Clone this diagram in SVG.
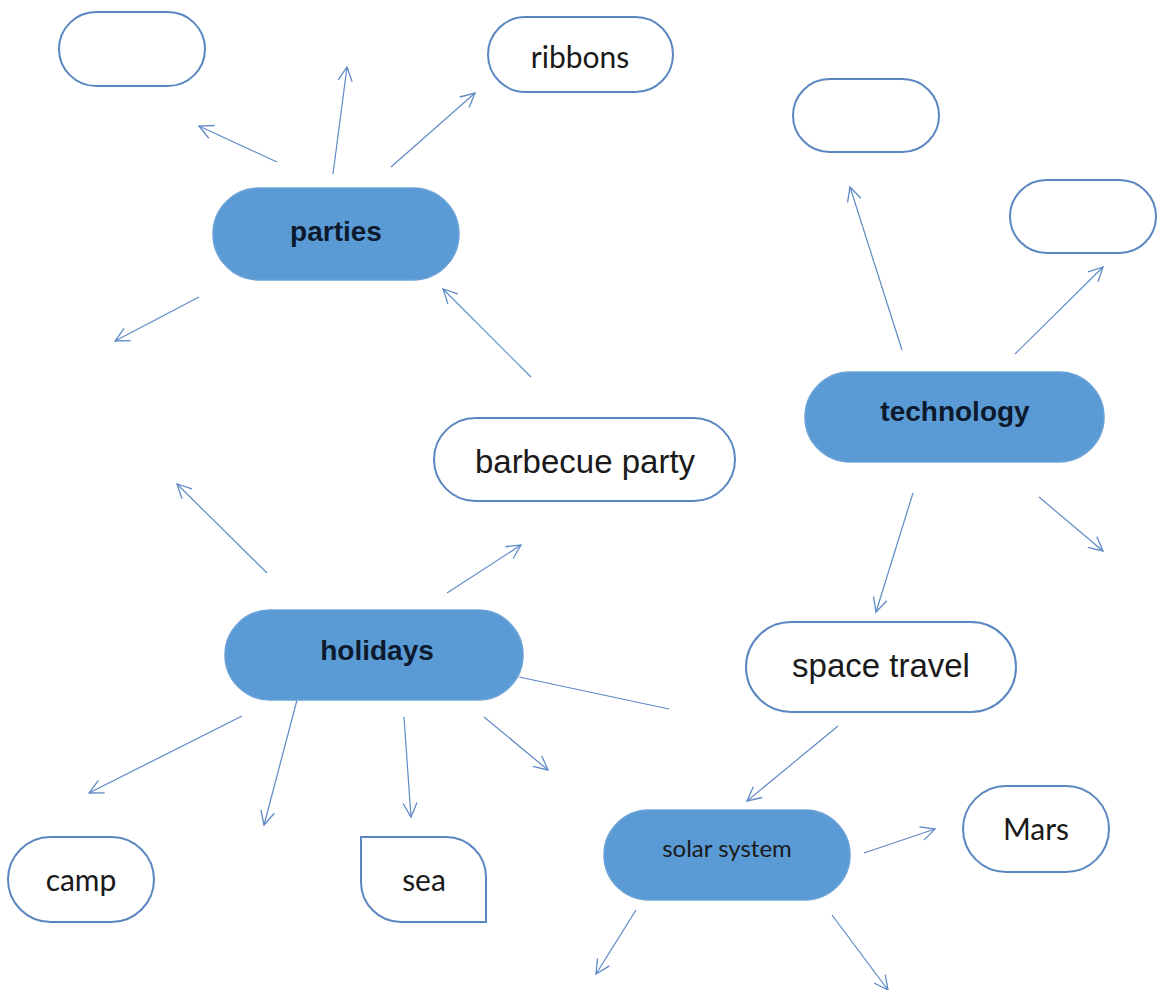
<svg xmlns="http://www.w3.org/2000/svg" width="1160" height="990" viewBox="0 0 1160 990">
<defs>
<marker id="arr" markerUnits="userSpaceOnUse" markerWidth="20" markerHeight="20" refX="15" refY="8" orient="auto">
<path d="M1,1 L15,8 L1,15" fill="none" stroke="#5F8AC6" stroke-width="1.3"/>
</marker>
</defs>
<style>
.lite{fill:#ffffff;stroke:#5B87C0;stroke-width:2}
.main{fill:#5B9BD5;stroke:#6AA2D8;stroke-width:1.5}
.c{fill:none;stroke:#5F8AC6;stroke-width:1.2}
.a{marker-end:url(#arr)}
.t{text-anchor:middle;fill:#1a1a1a}
.arial{font-family:"Liberation Sans",Arial,sans-serif}
.bold{font-family:"Liberation Sans",Arial,sans-serif;font-weight:bold;fill:#0d1a2e}
.cal{font-family:Lato,"Open Sans",sans-serif}
</style>
<rect width="1160" height="990" fill="#ffffff"/>
<g id="connectors">
<line class="c a" x1="277" y1="162" x2="199" y2="126"/>
<line class="c a" x1="333" y1="174" x2="347" y2="67"/>
<line class="c a" x1="391" y1="167" x2="475" y2="93"/>
<line class="c a" x1="199" y1="297" x2="115" y2="341"/>
<line class="c a" x1="531" y1="377" x2="443" y2="289"/>
<line class="c a" x1="902" y1="350" x2="850" y2="187"/>
<line class="c a" x1="1015" y1="354" x2="1103" y2="267"/>
<line class="c a" x1="913" y1="493" x2="876" y2="612"/>
<line class="c a" x1="1039" y1="497" x2="1103" y2="551"/>
<line class="c a" x1="267" y1="573" x2="177" y2="484"/>
<line class="c a" x1="447" y1="593" x2="521" y2="545"/>
<line class="c" x1="519" y1="677" x2="669" y2="709"/>
<line class="c a" x1="242" y1="716" x2="89" y2="793"/>
<line class="c a" x1="297" y1="700" x2="264" y2="825"/>
<line class="c a" x1="404" y1="717" x2="411" y2="817"/>
<line class="c a" x1="484" y1="717" x2="548" y2="770"/>
<line class="c a" x1="838" y1="726" x2="747" y2="801"/>
<line class="c a" x1="864" y1="853" x2="935" y2="829"/>
<line class="c a" x1="636" y1="910" x2="596" y2="974"/>
<line class="c a" x1="832" y1="915" x2="888" y2="990"/>
</g>
<g id="empty1"><rect class="lite" x="59" y="12" width="146" height="74" rx="37"/></g>
<g id="ribbons"><rect class="lite" x="488" y="17" width="185" height="75" rx="37.5"/><text class="t cal" x="580" y="68" font-size="30">ribbons</text></g>
<g id="parties"><rect class="main" x="213" y="188" width="246" height="92" rx="46"/><text class="t bold" x="336" y="241" font-size="28">parties</text></g>
<g id="empty2"><rect class="lite" x="793" y="79" width="146" height="73" rx="36.5"/></g>
<g id="empty3"><rect class="lite" x="1010" y="180" width="146" height="73" rx="36.5"/></g>
<g id="technology"><rect class="main" x="805" y="372" width="299" height="90" rx="45"/><text class="t bold" x="955" y="421" font-size="28">technology</text></g>
<g id="barbecue"><rect class="lite" x="434" y="418" width="301" height="83" rx="41.5"/><text class="t arial" x="585" y="473" font-size="33">barbecue party</text></g>
<g id="holidays"><rect class="main" x="225" y="610" width="298" height="90" rx="45"/><text class="t bold" x="377" y="660" font-size="28">holidays</text></g>
<g id="space"><rect class="lite" x="746" y="622" width="270" height="90" rx="45"/><text class="t arial" x="881" y="677" font-size="33">space travel</text></g>
<g id="camp"><rect class="lite" x="8" y="837" width="146" height="85" rx="42.5"/><text class="t cal" x="81" y="891" font-size="30">camp</text></g>
<g id="sea"><path class="lite" d="M361,837 H446 A40,40 0 0 1 486,877 V922 H401 A40,40 0 0 1 361,882 Z"/><text class="t cal" x="424" y="891" font-size="30">sea</text></g>
<g id="solar"><rect class="main" x="604" y="810" width="246" height="90" rx="45"/><text class="t cal" x="727" y="857" font-size="24" fill="#0d1a2e">solar system</text></g>
<g id="mars"><rect class="lite" x="963" y="786" width="146" height="86" rx="43"/><text class="t cal" x="1036" y="840" font-size="30">Mars</text></g>
</svg>
